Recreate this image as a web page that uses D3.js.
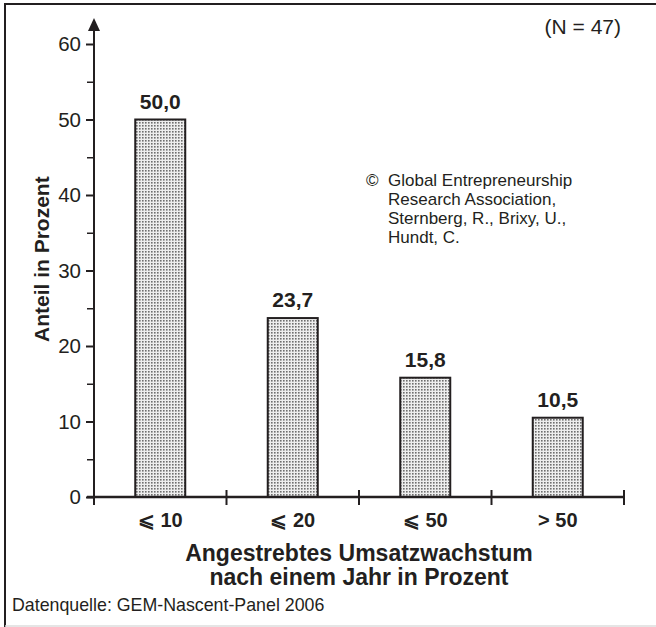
<!DOCTYPE html>
<html>
<head>
<meta charset="utf-8">
<script src="https://cdn.jsdelivr.net/npm/d3@7"></script>
<style>
  body { margin: 0; background: #fff; }
  svg text { font-family: "Liberation Sans", Arial, sans-serif; fill: #231f20; }
</style>
</head>
<body>
<svg id="chart" width="656" height="627"></svg>
<script>
// chart data
var categories = ["⩽ 10", "⩽ 20", "⩽ 50", "> 50"];
var values = [50.0, 23.7, 15.8, 10.5];
var yTicks = [0, 10, 20, 30, 40, 50, 60];
var yMinorTicks = [5, 15, 25, 35, 45, 55];
var copyrightLines = ["Global Entrepreneurship", "Research Association,", "Sternberg, R., Brixy, U.,", "Hundt, C."];

var svg = d3.select("#chart");
var ink = "#231f20";

var margin = { top: 44, left: 94, right: 32, bottom: 130 },
    width = 656 - margin.left - margin.right,
    height = 627 - margin.top - margin.bottom;

// frame: top + left dark, faint bottom
svg.append("line").attr("x1", 5).attr("x2", 656).attr("y1", 4).attr("y2", 4)
    .attr("stroke", ink).attr("stroke-width", 2);
svg.append("line").attr("x1", 5).attr("x2", 5).attr("y1", 3).attr("y2", 627)
    .attr("stroke", ink).attr("stroke-width", 2);
svg.append("line").attr("x1", 5).attr("x2", 656).attr("y1", 626).attr("y2", 626)
    .attr("stroke", "#ddd").attr("stroke-width", 1.5);

// dotted fill
var defs = svg.append("defs");
var pat = defs.append("pattern").attr("id", "dots")
    .attr("patternUnits", "userSpaceOnUse").attr("width", 3).attr("height", 3);
pat.append("rect").attr("width", 3).attr("height", 3).attr("fill", "#eeeeee");
pat.append("rect").attr("x", 0).attr("y", 0).attr("width", 1.6).attr("height", 1.6).attr("fill", "#6f6f6f");

var g = svg.append("g").attr("transform", "translate(" + margin.left + "," + margin.top + ")");

var x = d3.scaleBand().domain(categories).range([0, width]).paddingInner(0).paddingOuter(0);
var y = d3.scaleLinear().domain([0, 60]).range([height, 0]);

// bars
var barW = 50;
g.selectAll("rect.bar").data(values).enter().append("rect")
    .attr("class", "bar")
    .attr("x", function(d, i) { return x(categories[i]) + x.bandwidth() / 2 - barW / 2; })
    .attr("y", function(d) { return y(d); })
    .attr("width", barW)
    .attr("height", function(d) { return height - y(d); })
    .attr("fill", "url(#dots)")
    .attr("stroke", ink).attr("stroke-width", 2);

// value labels
g.selectAll("text.val").data(values).enter().append("text")
    .attr("class", "val")
    .attr("x", function(d, i) { return x(categories[i]) + x.bandwidth() / 2; })
    .attr("y", function(d) { return y(d) - 11; })
    .attr("text-anchor", "middle")
    .style("font-size", "21px").style("font-weight", "bold")
    .text(function(d) { return d.toFixed(1).replace(".", ","); });

// y axis
var yAxis = d3.axisLeft(y).tickValues(yTicks).tickSize(8).tickPadding(5);
var yG = g.append("g").call(yAxis);
yG.select(".domain").remove();
yG.selectAll(".tick line").attr("stroke", ink).attr("stroke-width", 2);
yG.selectAll(".tick text").style("font-size", "20.5px").attr("fill", ink);
// minor ticks
var yMinor = d3.axisLeft(y).tickValues(yMinorTicks).tickSize(7).tickFormat("");
var yMG = g.append("g").call(yMinor);
yMG.select(".domain").remove();
yMG.selectAll(".tick line").attr("stroke", ink).attr("stroke-width", 1.5);

// y axis line with arrow
g.append("line").attr("x1", 0).attr("x2", 0).attr("y1", height).attr("y2", -16)
    .attr("stroke", ink).attr("stroke-width", 2);
g.append("path").attr("d", "M0,-26 L-6,-13 L6,-13 Z").attr("fill", ink);

// x axis
var xAxis = d3.axisBottom(x).tickSize(0).tickPadding(16);
var xG = g.append("g").attr("transform", "translate(0," + height + ")").call(xAxis);
xG.select(".domain").remove();
xG.selectAll(".tick text").style("font-size", "20px").style("font-weight", "bold").attr("fill", ink);
g.append("line").attr("x1", -7).attr("x2", width).attr("y1", height).attr("y2", height)
    .attr("stroke", ink).attr("stroke-width", 2.5);
var bounds = categories.map(function(c) { return x(c); }).concat([width]);
g.selectAll("line.sep").data(bounds).enter().append("line")
    .attr("class", "sep")
    .attr("x1", function(d) { return d; }).attr("x2", function(d) { return d; })
    .attr("y1", height - 7).attr("y2", height + 8)
    .attr("stroke", ink).attr("stroke-width", 2);

// axis titles
svg.append("text")
    .attr("transform", "translate(49," + (margin.top + y(31.5)) + ") rotate(-90)")
    .attr("text-anchor", "middle")
    .style("font-size", "21px").style("font-weight", "bold")
    .text("Anteil in Prozent");

var xt = svg.append("text").attr("text-anchor", "middle")
    .style("font-size", "23px").style("font-weight", "bold");
xt.append("tspan").attr("x", margin.left + width / 2).attr("y", 561).text("Angestrebtes Umsatzwachstum");
xt.append("tspan").attr("x", margin.left + width / 2).attr("y", 585).text("nach einem Jahr in Prozent");

// annotations
svg.append("text").attr("x", 621).attr("y", 34).attr("text-anchor", "end")
    .style("font-size", "21px").text("(N = 47)");

svg.append("text").attr("x", 366).attr("y", 186).style("font-size", "17px").text("©");
svg.selectAll("text.copy").data(copyrightLines).enter().append("text")
    .attr("class", "copy")
    .attr("x", 388)
    .attr("y", function(d, i) { return 186 + i * 19; })
    .style("font-size", "17px")
    .text(function(d) { return d; });

svg.append("text").attr("x", 12).attr("y", 611)
    .style("font-size", "17.8px").text("Datenquelle: GEM-Nascent-Panel 2006");
</script>
</body>
</html>
